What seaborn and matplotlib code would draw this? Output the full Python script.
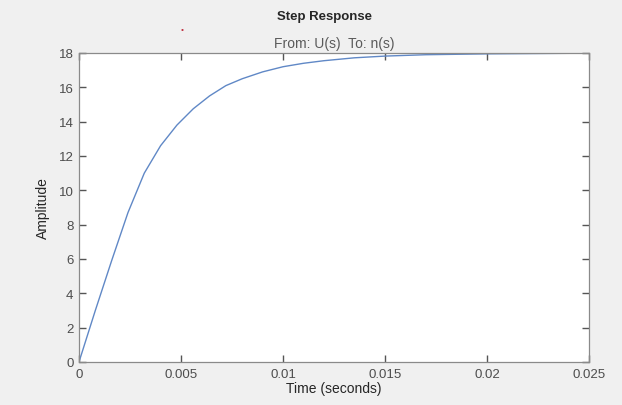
import matplotlib
matplotlib.use("Agg")
import matplotlib.pyplot as plt
import seaborn as sns
import pandas as pd

time_s = [0, 0.0008, 0.0016, 0.0024, 0.0032, 0.0040, 0.0048, 0.0056, 0.0064,
          0.0072, 0.0080, 0.0090, 0.0100, 0.0110, 0.0120, 0.0135, 0.0150,
          0.0170, 0.0200, 0.0250]
amplitude = [0, 3.0, 5.9, 8.7, 11.0, 12.6, 13.8, 14.75, 15.5, 16.1, 16.5,
             16.9, 17.2, 17.4, 17.55, 17.72, 17.82, 17.9, 17.95, 17.99]
x_ticks = [0, 0.005, 0.01, 0.015, 0.02, 0.025]
x_tick_labels = ["0", "0.005", "0.01", "0.015", "0.02", "0.025"]
y_ticks = [0, 2, 4, 6, 8, 10, 12, 14, 16, 18]

sns.set_theme(style="white", rc={"xtick.bottom": True, "ytick.left": True,
                                 "xtick.top": True, "ytick.right": True})
plt.rcParams["font.family"] = ["Liberation Sans", "DejaVu Sans"]

fig = plt.figure(figsize=(6.22, 4.06), dpi=100, facecolor="#f0f0f0")
ax = fig.add_axes([0.127, 0.106, 0.820, 0.761])
ax.set_facecolor("white")

df = pd.DataFrame({"t": time_s, "y": amplitude})
sns.lineplot(data=df, x="t", y="y", ax=ax, color="#6088c6", linewidth=1.0)

ax.set_xlim(0, 0.025)
ax.set_ylim(0, 18)
ax.set_xticks(x_ticks)
ax.set_xticklabels(x_tick_labels)
ax.set_yticks(y_ticks)
ax.xaxis.set_ticks_position("both")
ax.yaxis.set_ticks_position("both")
ax.tick_params(which="major", direction="in", length=5, width=1.0,
               color="#555555", labelsize=9.5,
               labelcolor="#4d4d4d", pad=4)
for s in ax.spines.values():
    s.set_color("#8a8a8a")
    s.set_linewidth(0.9)

ax.set_xlabel("Time (seconds)", fontsize=10, color="#262626", labelpad=1)
ax.set_ylabel("Amplitude", fontsize=10, color="#262626", labelpad=6)
ax.set_title("From: U(s)  To: n(s)", fontsize=10, color="#5a5a5a", pad=4)
fig.text(0.522, 0.958, "Step Response", ha="center", va="center",
         fontsize=9.5, fontweight="bold", color="#262626")
fig.text(0.293, 0.926, "\u2022", ha="center", va="center",
         fontsize=6, color="#c03040")

fig.savefig("out.png", dpi=100, facecolor=fig.get_facecolor())
